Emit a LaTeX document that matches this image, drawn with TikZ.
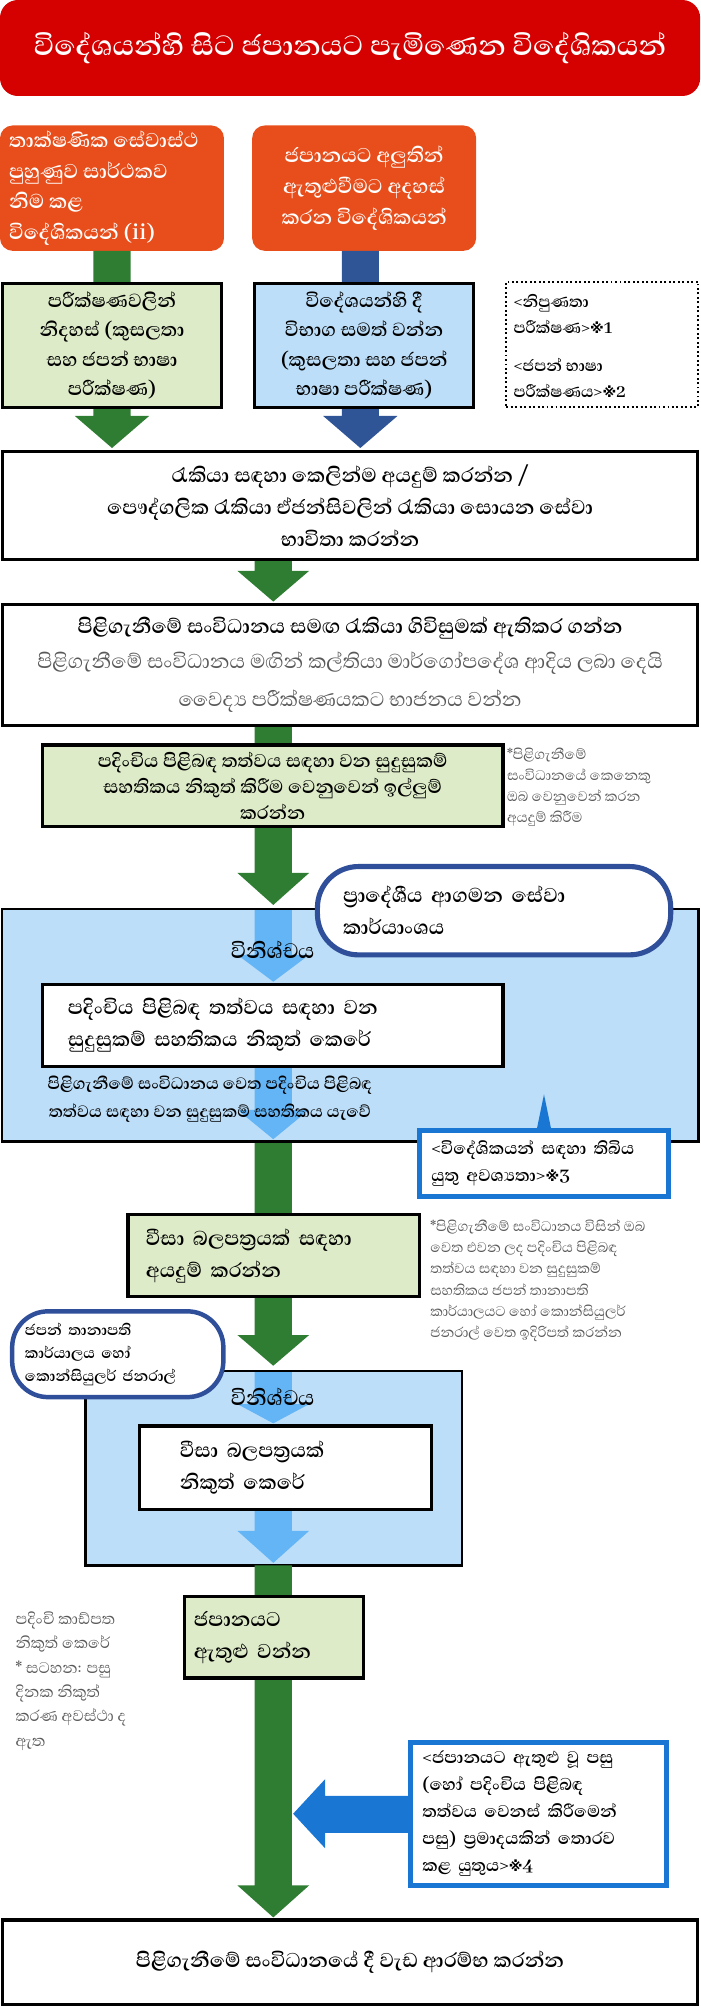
\documentclass[tikz,border=0pt]{standalone}
\usepackage{fontspec}
\setmainfont[Script=Sinhala]{Abhaya Libre}
\newfontfamily\dv{DejaVu Sans}
\newcommand\kome{{\dv\fontsize{11}{11}\selectfont ※}}
\definecolor{tred}{HTML}{D50000}
\definecolor{torange}{HTML}{E84E1B}
\definecolor{tgreen}{HTML}{2F7D32}
\definecolor{tdblue}{HTML}{2F5597}
\definecolor{lgreen}{HTML}{DDEBC8}
\definecolor{lblue}{HTML}{BDDEF8}
\definecolor{abl}{HTML}{64B5F6}
\definecolor{cblue}{HTML}{1976D2}
\definecolor{pblue}{HTML}{2F4F9A}
\definecolor{tgray}{HTML}{595959}
\newcommand\blockarrow[7]{% color, xc, ytop, yhead, ytip, halfshaft, halfhead
  \fill[#1] (#2-#6,#3) -- (#2+#6,#3) -- (#2+#6,#4) -- (#2+#7,#4) -- (#2,#5) -- (#2-#7,#4) -- (#2-#6,#4) -- cycle;}
\tikzset{
  box/.style={draw=black,line width=2.5pt,inner sep=3pt,font=\bfseries\fontsize{20}{25}\selectfont},
  obox/.style={fill=torange,rounded corners=10pt,text=white,font=\bfseries\fontsize{20}{24}\selectfont},
  gray/.style={text=tgray,font=\fontsize{14}{16.5}\selectfont,align=left,anchor=north west,inner sep=0pt},
  pill/.style={draw=pblue,line width=4pt,fill=white,rounded corners=32pt,font=\bfseries\fontsize{20}{25}\selectfont},
  call/.style={draw=cblue,line width=4pt,fill=white,font=\bfseries\fontsize{17}{21}\selectfont},
}
\begin{document}
\begin{tikzpicture}[x=1pt,y=-1pt]
\useasboundingbox (0,0) rectangle (547,1568);
% title
\node[fill=tred,rounded corners=14pt,minimum width=547pt,minimum height=75pt,text=white,font=\bfseries\fontsize{28}{32}\selectfont] (title) at (273.5,37.5) {විදේශයන්හි සිට ජපානයට පැමිණෙන විදේශිකයන්};
% orange boxes
\node[obox,minimum width=175pt,minimum height=98pt] (o1) at (87.5,147) {};
\node[text=white,font=\bfseries\fontsize{20}{24}\selectfont,align=left,anchor=west,inner sep=0pt] (o1t) at (7,147) {තාක්ෂණික සේවාස්ථ\\පුහුණුව සාර්ථකව\\නිම කළ\\විදේශිකයන් (ii)};
\node[obox,minimum width=175pt,minimum height=98pt,align=center] (o2) at (284.5,147) {ජපානයට අලුතින්\\ඇතුළුවීමට අදහස්\\කරන විදේශිකයන්};
% top arrows
\blockarrow{tgreen}{87.5}{196}{325}{350}{14.5}{29}
\blockarrow{tdblue}{281.5}{196}{325}{350}{14.5}{29}
\node[box,fill=lgreen,minimum width=171pt,minimum height=97pt,align=center,font=\bfseries\fontsize{19}{23}\selectfont] (g1) at (87.5,270) {පරීක්ෂණවලින්\\නිදහස් (කුසලතා\\සහ ජපන් භාෂා\\පරීක්ෂණ)};
\node[box,fill=lblue,minimum width=171pt,minimum height=97pt,align=center,font=\bfseries\fontsize{19}{23}\selectfont] (b1) at (284.5,270) {විදේශයන්හි දී\\විභාග සමත් වන්න\\(කුසලතා සහ ජපන්\\භාෂා පරීක්ෂණ)};
\node[draw=black,dotted,line width=1.5pt,minimum width=150pt,minimum height=98pt] (dot) at (470.5,269) {};
\node[anchor=north west,align=left,inner sep=0pt,font=\bfseries\fontsize{16}{20}\selectfont] (dott) at (401,230) {<නිපුණතා\\පරීක්ෂණ>\kome1\\[10pt]<ජපන් භාෂා\\පරීක්ෂණය>\kome2};
% central arrows
\blockarrow{tgreen}{213.5}{430}{446}{470}{14.5}{28}
\blockarrow{tgreen}{213.5}{560}{682}{707}{14.5}{28}
\node[box,fill=white,minimum width=543pt,minimum height=84pt,align=center] (A) at (273.5,395) {රැකියා සඳහා කෙලින්ම අයදුම් කරන්න /\\පෞද්ගලික රැකියා ඒජන්සිවලින් රැකියා සොයන සේවා\\භාවිතා කරන්න};
\node[box,fill=white,minimum width=543pt,minimum height=95pt,align=center] (B) at (273.5,519.5) {පිළිගැනීමේ සංවිධානය සමඟ රැකියා ගිවිසුමක් ඇතිකර ගන්න\\[2pt]{\mdseries\color{tgray}පිළිගැනීමේ සංවිධානය මඟින් කල්තියා මාර්ගෝපදේශ ආදිය ලබා දෙයි}\\[5pt]{\mdseries\color{tgray}වෛද්‍ය පරීක්ෂණයකට භාජනය වන්න}};
\node[box,fill=lgreen,minimum width=360pt,minimum height=64pt,align=center,font=\bfseries\fontsize{18.5}{20}\selectfont] (C) at (213,614) {පදිංචිය පිළිබඳ තත්වය සඳහා වන සුදුසුකම්\\සහතිකය නිකුත් කිරීම වෙනුවෙන් ඉල්ලුම්\\කරන්න};
\node[gray] (n1) at (396,584) {*පිළිගැනීමේ\\සංවිධානයේ කෙනෙකු\\ඔබ වෙනුවෙන් කරන\\අයදුම් කිරීම};
% region 1
\node[draw=black,line width=2pt,fill=lblue,minimum width=544pt,minimum height=182pt] (R1) at (273.5,801) {};
\blockarrow{abl}{213.5}{711}{746}{767}{14.5}{28}
\blockarrow{abl}{213.5}{833}{867}{890}{14.5}{28}
\node[pill,minimum width=276pt,minimum height=69pt,align=left,text width=236pt] (P1) at (386,711.5) {ප්‍රාදේශීය ආගමන සේවා\\කාර්යාංශය};
\node[font=\bfseries\fontsize{21}{24}\selectfont] (L1) at (213,742) {විනිශ්චය};
\node[box,fill=white,minimum width=360pt,minimum height=64pt,align=left,text width=320pt] (W1) at (213,801) {පදිංචිය පිළිබඳ තත්වය සඳහා වන\\සුදුසුකම් සහතිකය නිකුත් කෙරේ};
\node[align=center,font=\bfseries\fontsize{16.5}{22}\selectfont] (t1) at (164,859) {පිළිගැනීමේ සංවිධානය වෙත පදිංචිය පිළිබඳ\\තත්වය සඳහා වන සුදුසුකම් සහතිකය යැවේ};
\fill[cblue] (419,884) -- (431,884) -- (425,855) -- cycle;
\node[call,minimum width=194pt,minimum height=52pt,align=left,text width=176pt] (c3) at (425,909) {<විදේශිකයන් සඳහා තිබිය\\යුතු අවශ්‍යතා>\kome3};
% visa
\blockarrow{tgreen}{213.5}{893}{1043}{1067}{14.5}{28}
\node[box,fill=lgreen,minimum width=228pt,minimum height=64pt,align=left,text width=200pt] (V) at (214,981) {වීසා බලපත්‍රයක් සඳහා\\අයදුම් කරන්න};
\node[gray] (n2) at (336,953) {*පිළිගැනීමේ සංවිධානය විසින් ඔබ\\වෙත එවන ලද පදිංචිය පිළිබඳ\\තත්වය සඳහා වන සුදුසුකම්\\සහතිකය ජපන් තානාපති\\කාර්යාලයට හෝ කොන්සියුලර්\\ජනරාල් වෙත ඉදිරිපත් කරන්න};
% region 2
\node[draw=black,line width=2pt,fill=lblue,minimum width=294pt,minimum height=152pt] (R2) at (214,1147) {};
\blockarrow{abl}{213.5}{1072}{1097}{1112}{14.5}{28}
\blockarrow{abl}{213.5}{1179}{1196}{1221}{14.5}{28}
\node[pill,line width=3.5pt,rounded corners=28pt,minimum width=165pt,minimum height=67pt,align=left,text width=145pt,font=\bfseries\fontsize{15}{18}\selectfont] (P2) at (92,1058) {ජපන් තානාපති\\කාර්යාලය හෝ\\කොන්සියුලර් ජනරාල්};
\node[font=\bfseries\fontsize{21}{24}\selectfont] (L2) at (213,1091) {විනිශ්චය};
\node[box,fill=white,minimum width=228pt,minimum height=65pt,align=left,text width=165pt] (W2) at (223,1146.5) {වීසා බලපත්‍රයක්\\නිකුත් කෙරේ};
% enter
\blockarrow{tgreen}{213.5}{1223}{1473}{1498}{14.5}{28}
\node[box,fill=lgreen,minimum width=140pt,minimum height=64pt,align=left,text width=125pt] (J) at (214,1279) {ජපානයට\\ඇතුළු වන්න};
\node[gray,font=\fontsize{15.5}{19}\selectfont] (n3) at (12,1259) {පදිංචි කාඩ්පත\\නිකුත් කෙරේ\\* සටහන: පසු\\දිනක නිකුත්\\කරණ අවස්ථා ද\\ඇත};
\fill[cblue] (319,1403) -- (254,1403) -- (254,1390) -- (229,1417) -- (254,1444) -- (254,1432) -- (319,1432) -- cycle;
\node[call,minimum width=200pt,minimum height=112pt,align=left,text width=182pt] (c4) at (421,1417) {<ජපානයට ඇතුළු වූ පසු\\(හෝ පදිංචිය පිළිබඳ\\තත්වය වෙනස් කිරීමෙන්\\පසු) ප්‍රමාදයකින් තොරව\\කළ යුතුය>\kome4};
\node[box,fill=white,minimum width=543pt,minimum height=66pt] (F) at (273.5,1533) {පිළිගැනීමේ සංවිධානයේ දී වැඩ ආරම්භ කරන්න};
\end{tikzpicture}
\end{document}
